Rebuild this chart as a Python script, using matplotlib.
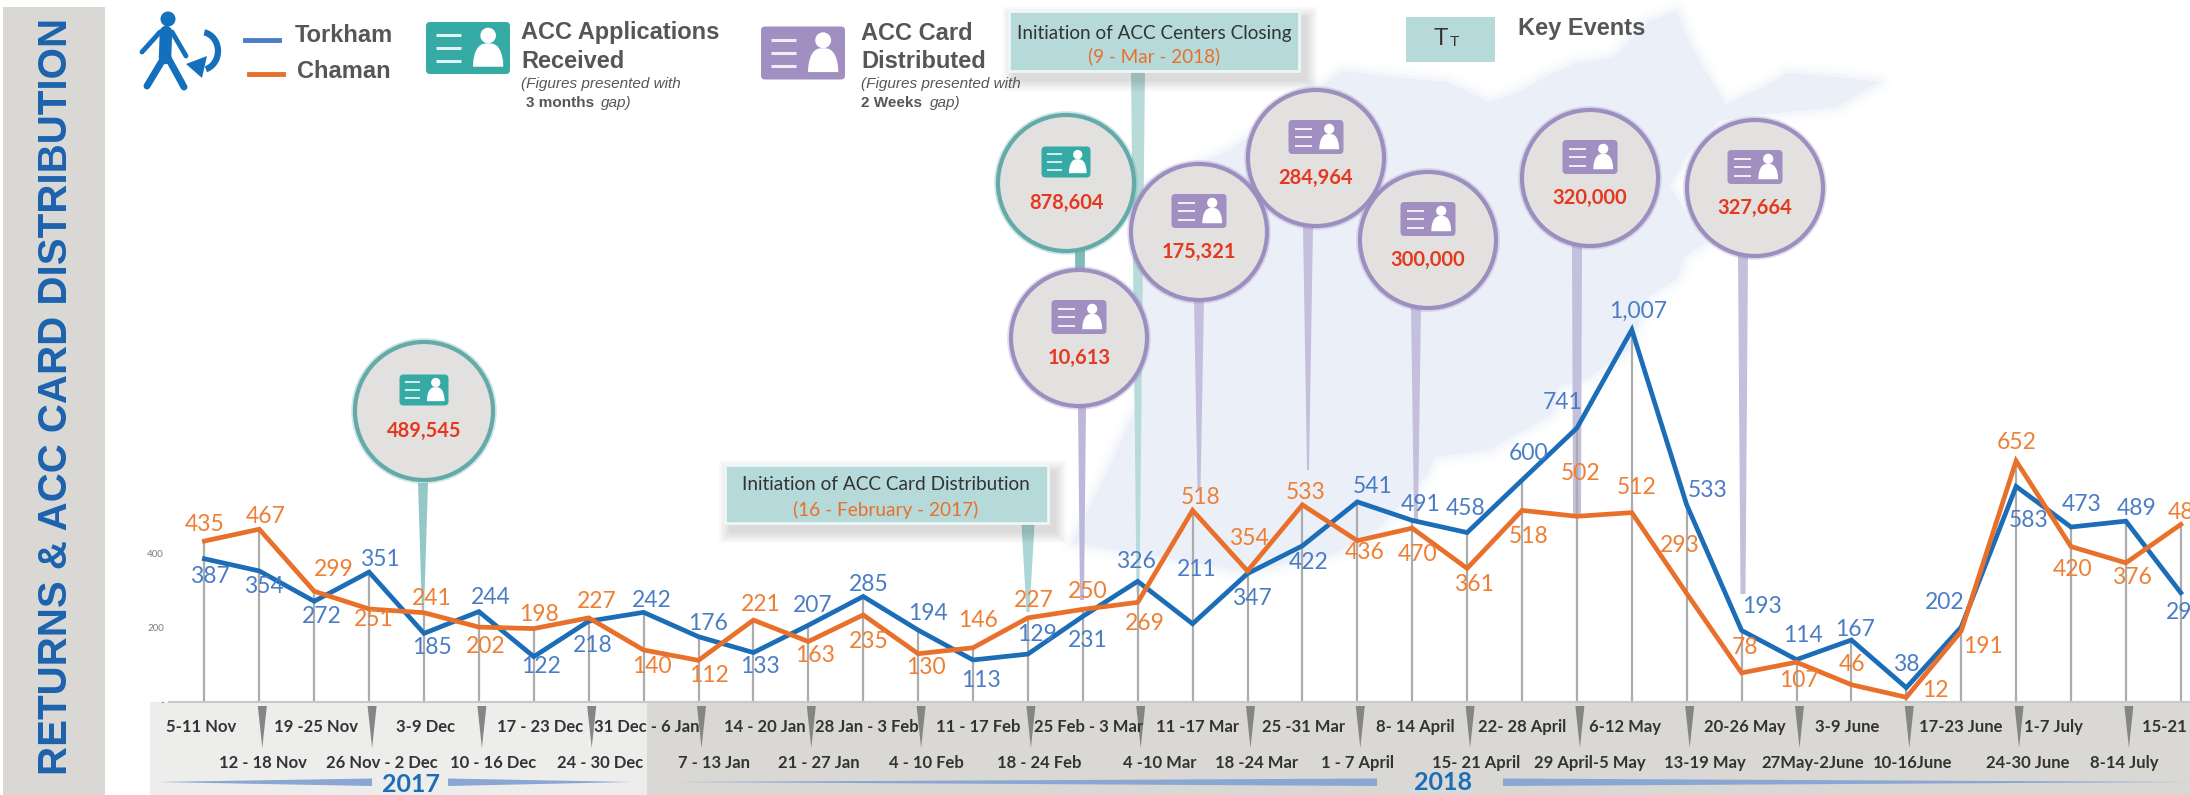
import numpy as np
import matplotlib
matplotlib.use("Agg")
import matplotlib.pyplot as plt
from matplotlib.patches import Arc, Circle, FancyBboxPatch, Polygon, Rectangle

weeks = ["5-11 Nov", "12 - 18 Nov", "19 -25 Nov", "26 Nov - 2 Dec", "3-9 Dec", "10 - 16 Dec",
         "17 - 23 Dec", "24 - 30 Dec", "31 Dec - 6 Jan", "7 - 13 Jan", "14 - 20 Jan", "21 - 27 Jan",
         "28 Jan - 3 Feb", "4 - 10 Feb", "11 - 17 Feb", "18 - 24 Feb", "25 Feb - 3 Mar", "4 -10 Mar",
         "11 -17 Mar", "18 -24 Mar", "25 -31 Mar", "1 - 7 April", "8- 14 April", "15- 21 April",
         "22- 28 April", "29 April-5 May", "6-12 May", "13-19 May", "20-26 May", "27May-2June",
         "3-9 June", "10-16June", "17-23 June", "24-30 June", "1-7 July", "8-14 July", "15-21 July"]
torkham = [387, 354, 272, 351, 185, 244, 122, 218, 242, 176, 133, 207, 285, 194, 113, 129, 231, 326, 211,
           347, 422, 541, 491, 458, 600, 741, 1007, 533, 193, 114, 167, 38, 202, 583, 473, 489, 295]
chaman = [435, 467, 299, 251, 241, 202, 198, 227, 140, 112, 221, 163, 235, 130, 146, 227, 250, 269, 518,
          354, 533, 436, 470, 361, 518, 502, 512, 293, 78, 107, 46, 12, 191, 652, 420, 376, 480]

# label offsets from the point, pixels (dx, dy with y going down)
torkham_off = [(5, 18), (5, 16), (8, 15), (11, -13), (8, 14), (12, -14), (7, 10), (4, 24), (8, -12), (10, -13),
               (7, 14), (4, -20), (6, -12), (10, -17), (8, 21), (9, -20), (5, 24), (-2, -20), (4, -54), (4, 25),
               (6, 17), (15, -15), (8, -16), (-1, -24), (7, -27), (-14, -26), (6, -18), (21, -14), (20, -24),
               (6, -24), (4, -11), (0, -23), (-17, -25), (13, 34), (11, -23), (11, -13), (5, 20)]
chaman_off = [(0, -17), (6, -13), (20, -22), (5, 10), (8, -14), (7, 19), (5, -14), (8, -16), (8, 17), (10, 15),
              (7, -16), (7, 14), (6, 27), (8, 14), (5, -27), (6, -17), (5, -18), (7, 21), (8, -13), (1, -32),
              (3, -12), (7, 12), (5, 26), (7, 16), (7, 26), (4, -43), (5, -25), (-7, -48), (3, -25), (2, 18),
              (1, -20), (29, -7), (22, 15), (1, -18), (2, 23), (6, 15), (7, -12)]
week_dx = [-3, 4, 2, 13, 2, 14, 6, 11, 3, 15, 11, 11, 4, 8, 5, 11, 6, 22, 5, 9, 1, 0, 3, 9, 0, 13, -7, 18, 3, 16,
           -4, 6, 0, 12, -18, -2, 0]

BLUE = "#1c6db8"
ORANGE = "#e8702a"
BLUE_TXT = "#4a7dc6"
ORANGE_TXT = "#ee7f33"
GREY_TXT = "#565656"
TEAL = "#36aba6"
PURPLE = "#a08fc0"
RED = "#e5391f"
MAP = "#ebeff8"

W, H = 2190, 795
X0, DX = 204.4, 54.9
Y0, SY = 701.7, 0.3693

plt.rcParams["font.family"] = ["Lato", "DejaVu Sans"]
fig = plt.figure(figsize=(W / 100, H / 100), dpi=100, facecolor="white")

# decoration layer in pixels, y going down
deco = fig.add_axes([0, 0, 1, 1], zorder=1)
deco.set_xlim(0, W)
deco.set_ylim(H, 0)
deco.axis("off")

map_outline = [(1343, 71), (1392, 77), (1448, 82), (1489, 102), (1517, 93), (1545, 77), (1573, 64), (1614, 57),
               (1649, 21), (1677, 11), (1691, 46), (1712, 82), (1726, 104), (1760, 89), (1788, 73), (1837, 77),
               (1879, 82), (1837, 107), (1767, 114), (1719, 121), (1698, 143), (1684, 161), (1670, 186),
               (1705, 243), (1684, 257), (1677, 279), (1649, 296), (1628, 350), (1587, 379), (1559, 386),
               (1552, 414), (1489, 450), (1434, 457), (1427, 475), (1378, 529), (1336, 553), (1246, 572),
               (1150, 555), (1072, 543), (1103, 480), (1140, 400), (1140, 190), (1230, 150)]
for lw, a in [(16, 0.12), (10, 0.2), (5, 0.35)]:
    deco.add_patch(Polygon(map_outline, closed=True, fc="none", ec=MAP, lw=lw, alpha=a, joinstyle="round"))
deco.add_patch(Polygon(map_outline, closed=True, fc=MAP, ec="none"))


def shadow_box(x0, y0, x1, y1):
    for k in range(12, 0, -2):
        deco.add_patch(Rectangle((x0 - k + 6, y0 - k + 8), x1 - x0 + 2 * k, y1 - y0 + 2 * k,
                                 fc="#000000", ec="none", alpha=0.022))
    deco.add_patch(Rectangle((x0, y0), x1 - x0, y1 - y0, fc="#b6d9d9", ec="#eef6f6", lw=2))


def stem(x, y0, y1, w0, w1, color):
    deco.fill([x - w0 / 2, x + w0 / 2, x + w1 / 2, x - w1 / 2], [y0, y0, y1, y1], color=color, lw=0)


def card_icon(cx, cy, w, h, color):
    deco.add_patch(FancyBboxPatch((cx - w / 2 + 3, cy - h / 2 + 3), w - 6, h - 6,
                                  boxstyle="round,pad=3,rounding_size=4", fc=color, ec="none"))
    for f in (-0.25, 0, 0.25):
        deco.plot([cx - 0.38 * w, cx - 0.08 * w], [cy + f * h] * 2, color="white", lw=h / 24, alpha=0.85,
                  solid_capstyle="butt")
    px = cx + 0.24 * w
    deco.add_patch(Circle((px, cy - 0.24 * h), 0.15 * h, fc="white", ec="none"))
    t = np.linspace(np.pi, 2 * np.pi, 30)
    body_x = px + 0.18 * w * np.sign(np.cos(t)) * np.abs(np.cos(t)) ** 0.7
    body_y = cy + 0.36 * h + 0.45 * h * np.sin(t)
    deco.fill(body_x, body_y, color="white", lw=0)


def bubble(cx, cy, r, text, color, edge, icon_w, icon_h):
    for lw, a in [(5.5, 0.3), (3, 1)]:
        deco.add_patch(Circle((cx, cy), r, fc="#e3e1df", ec=edge, lw=lw, alpha=a))
    card_icon(cx, cy - 21, icon_w, icon_h, color)
    deco.text(cx, cy + 20, text, color=RED, fontsize=14.5, fontweight="bold", ha="center", va="center")


# left title panel and bottom strip
deco.add_patch(Rectangle((3, 7), 102, H - 7, fc="#d9d8d5", ec="none"))
deco.text(56, 396, "RETURNS & ACC CARD DISTRIBUTION", rotation=90, color="#1c62ad", fontsize=29,
          fontweight="bold", family="Liberation Sans", ha="center", va="center")
deco.add_patch(Rectangle((150, 702), 497, H - 702, fc="#ededec", ec="none"))
deco.add_patch(Rectangle((647, 702), W - 647, H - 702, fc="#d9d8d5", ec="none"))

# year banners
for x0, x1, thin_left in [(158, 372, True), (448, 631, False), (673, 1377, True), (1503, 2190, False)]:
    thin, thick = (x0, x1) if thin_left else (x1, x0)
    deco.fill([thin, thick, thick], [782, 778.5, 786], color="#8aa6d2", lw=0)
deco.text(411, 785, "2017", color="#1c6db8", fontsize=18, fontweight="bold", ha="center", va="center")
deco.text(1443, 783, "2018", color="#1c6db8", fontsize=18, fontweight="bold", ha="center", va="center")

# wedges under every second week
for i in range(1, len(weeks), 2):
    x = X0 + DX * i + 3
    deco.fill([x - 4.5, x + 4.5, x], [706, 706, 748], color="#858585", lw=0)

# stems, then callouts
stem(423, 483, 612, 10, 2, "#93c8c8")
stem(1028, 524, 612, 13, 3, "#acd6d5")
stem(1138, 70, 592, 14, 3, "#b7dbd9")
stem(1080, 250, 290, 10, 9, "#7fbcb9")
stem(1082, 405, 600, 8, 4, "#bdb7d9")
stem(1199, 298, 490, 10, 3, "#c4bfdc")
stem(1308, 225, 470, 10, 2, "#c4bfdc")
stem(1416, 305, 520, 10, 4, "#c4bfdc")
stem(1577, 245, 516, 10, 8, "#c4bfdc")
stem(1743, 255, 594, 10, 5, "#c4bfdc")

shadow_box(1009, 11, 1299, 71)
deco.text(1154, 34, "Initiation of ACC Centers Closing", color="#333333", fontsize=13.6, ha="center", va="center")
deco.text(1154, 56, "(9 - Mar - 2018)", color=ORANGE, fontsize=13.6, ha="center", va="center")
shadow_box(725, 465, 1048, 523)
deco.text(886, 484, "Initiation of ACC Card Distribution", color="#333333", fontsize=13.7, ha="center", va="center")
deco.text(886, 510, "(16 - February - 2017)", color=ORANGE, fontsize=13.7, ha="center", va="center")

TEAL_EDGE = "#63aaa9"
PURPLE_EDGE = "#9c8fc0"
bubble(424, 411, 69, "489,545", TEAL, TEAL_EDGE, 49, 31)
bubble(1066, 183, 68, "878,604", TEAL, TEAL_EDGE, 49, 31)
bubble(1079, 338, 68, "10,613", PURPLE, PURPLE_EDGE, 55, 34)
bubble(1199, 232, 68, "175,321", PURPLE, PURPLE_EDGE, 55, 34)
bubble(1316, 158, 68, "284,964", PURPLE, PURPLE_EDGE, 55, 34)
bubble(1428, 240, 68, "300,000", PURPLE, PURPLE_EDGE, 55, 34)
bubble(1590, 178, 68, "320,000", PURPLE, PURPLE_EDGE, 55, 34)
bubble(1755, 188, 68, "327,664", PURPLE, PURPLE_EDGE, 55, 34)

# legend
deco.add_patch(Circle((168, 19), 7.5, fc="#1470bd", ec="none"))
deco.plot([166, 165], [32, 58], color="#1470bd", lw=9, solid_capstyle="round")
deco.plot([165, 147], [56, 86], color="#1470bd", lw=5, solid_capstyle="round")
deco.plot([167, 184], [56, 87], color="#1470bd", lw=5, solid_capstyle="round")
deco.plot([160, 142], [32, 52], color="#1470bd", lw=3.5, solid_capstyle="round")
deco.plot([172, 186], [32, 56], color="#1470bd", lw=3.5, solid_capstyle="round")
deco.add_patch(Arc((201, 51), 34, 38, theta1=-80, theta2=75, color="#1470bd", lw=4.5))
deco.fill([207, 186, 202], [56, 64, 78], color="#1470bd", lw=0)
deco.plot([245, 279], [40, 40], color="#4a7dc6", lw=3.5)
deco.plot([249, 283], [74, 74], color=ORANGE, lw=3.5)
for x, y, s, fs in [(295, 36, "Torkham", 17), (297, 71, "Chaman", 17), (521, 33, "ACC Applications", 17),
                    (521, 62, "Received", 17), (861, 33, "ACC Card", 17), (861, 62, "Distributed", 17),
                    (1518, 28, "Key Events", 17)]:
    deco.text(x, y, s, color=GREY_TXT, fontsize=fs, fontweight="bold", family="Liberation Sans", va="center")
card_icon(468, 48, 84, 52, TEAL)
card_icon(803, 53, 84, 53, PURPLE)
for x, x2, s in [(521, 526, "3 months"), (861, 861, "2 Weeks")]:
    deco.text(x, 84, "(Figures presented with", color=GREY_TXT, fontsize=11, style="italic",
              family="Liberation Sans", va="center")
    deco.text(x2, 103, s, color=GREY_TXT, fontsize=11, fontweight="bold", family="Liberation Sans", va="center")
deco.text(601, 103, "gap)", color=GREY_TXT, fontsize=11, style="italic", family="Liberation Sans", va="center")
deco.text(930, 103, "gap)", color=GREY_TXT, fontsize=11, style="italic", family="Liberation Sans", va="center")
deco.add_patch(Rectangle((1406, 17), 89, 45, fc="#b6d9d9", ec="none"))
deco.text(1441, 39, "T", color="#333333", fontsize=17, family="Liberation Sans", ha="center", va="center")
deco.text(1454, 42, "T", color="#333333", fontsize=11, family="Liberation Sans", ha="center", va="center")

# chart layer, drawn through data coordinates
LEFT = 168
ax = fig.add_axes([LEFT / W, 0, (W - LEFT) / W, 1], zorder=2)
ax.patch.set_alpha(0)
ax.set_xlim((LEFT - X0) / DX, (W - X0) / DX)
ax.set_ylim((Y0 - H) / SY, Y0 / SY)
for s in ax.spines.values():
    s.set_visible(False)
ax.set_xticks([])
ax.set_yticks([0, 200, 400], ["-", "200", "400"], fontsize=7, color="#7a7a7a")
ax.tick_params(axis="y", length=0, pad=3)

idx = np.arange(len(weeks))
ax.vlines(idx, 0, np.maximum(torkham, chaman), color="#acacac", lw=1.6, zorder=2)
ax.axhline(0, color="#c9c9c9", lw=1.5, zorder=2)
ax.plot(idx, torkham, color=BLUE, lw=3.4, solid_joinstyle="miter", zorder=3, label="Torkham")
ax.plot(idx, chaman, color=ORANGE, lw=3.4, solid_joinstyle="miter", zorder=4, label="Chaman")

for series, offs, col in [(torkham, torkham_off, BLUE_TXT), (chaman, chaman_off, ORANGE_TXT)]:
    for i, (v, (dx, dy)) in enumerate(zip(series, offs)):
        ax.annotate(f"{v:,}", (i, v), xytext=(dx, -dy), textcoords="offset pixels", color=col, fontsize=16.5,
                    ha="center", va="center", zorder=5, annotation_clip=False)

for i, w in enumerate(weeks):
    dy = 25 if i % 2 == 0 else 61
    ax.annotate(w, (i, 0), xytext=(week_dx[i], -dy), textcoords="offset pixels", color="#333333", fontsize=12,
                fontweight="bold", ha="center", va="center", zorder=5, annotation_clip=False)

fig.savefig("out.png", dpi=100)
